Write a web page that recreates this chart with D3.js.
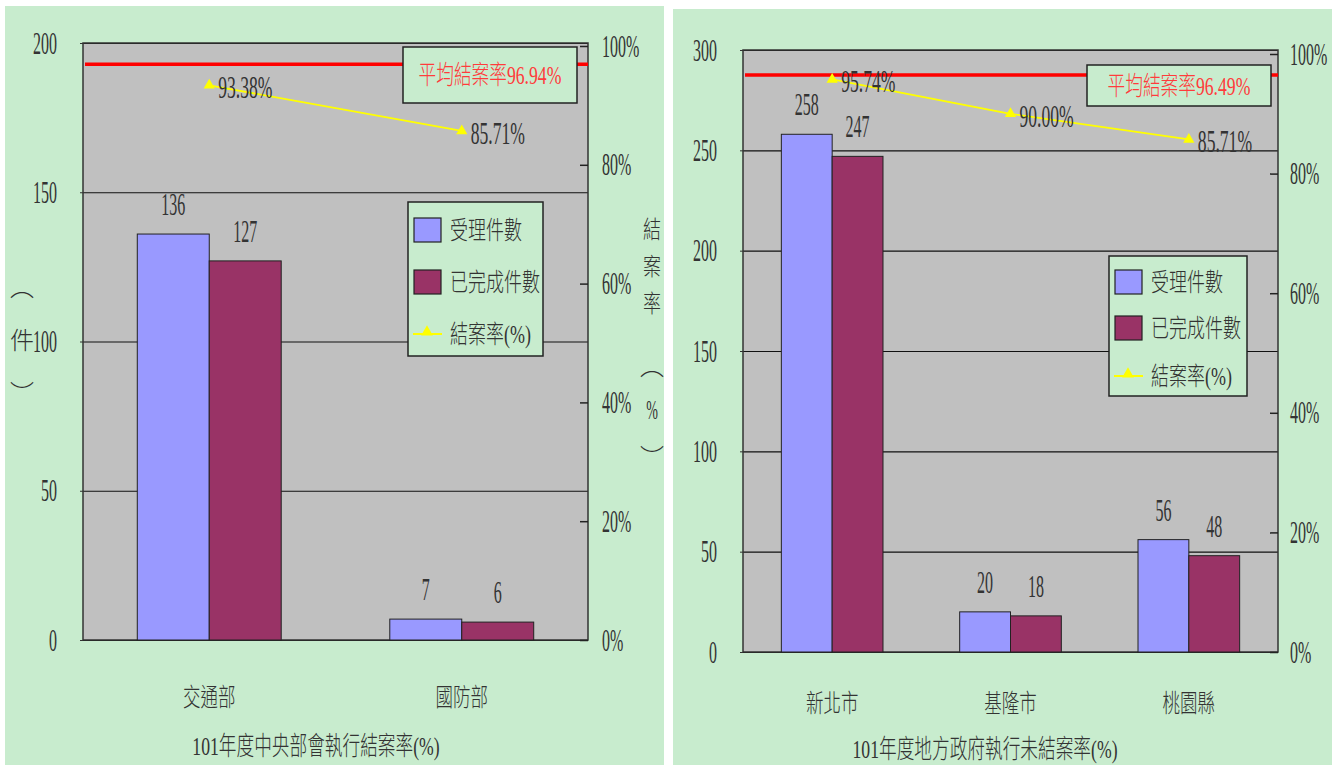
<!DOCTYPE html>
<html><head><meta charset="utf-8">
<script src="https://cdn.jsdelivr.net/npm/d3@7"></script>
<style>body{margin:0;background:#fff;}svg{display:block}</style>
</head><body>
<svg id="c" width="1338" height="765"></svg>
<script>
// ---------- data ----------
const centralCategories = ["交通部", "國防部"];
const centralReceived = [136, 7];
const centralCompleted = [127, 6];
const centralRate = [93.38, 85.71];
const centralAverage = 96.94;
const centralCountTicks = [0, 50, 100, 150, 200];
const centralTitle = "101年度中央部會執行結案率(%)";

const localCategories = ["新北市", "基隆市", "桃園縣"];
const localReceived = [258, 20, 56];
const localCompleted = [247, 18, 48];
const localRate = [95.74, 90.00, 85.71];
const localAverage = 96.49;
const localCountTicks = [0, 50, 100, 150, 200, 250, 300];
const localTitle = "101年度地方政府執行未結案率(%)";

const rateTicks = [0, 20, 40, 60, 80, 100];
const legendLabels = ["受理件數", "已完成件數", "結案率(%)"];
const averagePrefix = "平均結案率";
const leftAxisTitle = ["︵", "件", "︶"];
const rightAxisTitle = ["結", "案", "率", "︵", "%", "︶"];

// ---------- style ----------
const FONT = "'Liberation Serif','Noto Sans CJK TC',serif";
const GREEN = "#c8ecce", GRAY = "#c0c0c0", BLUE = "#9999ff", MAROON = "#993366";
const TXT = "#333333";
const NUM_SIZE = 32, NUM_SX = 0.5;
const svg = d3.select("#c");

function stext(g, x, y, str, o = {}) {
  const sx = o.sx ?? NUM_SX;
  return g.append("text")
    .attr("transform", `translate(${x},${y}) scale(${sx},1)`)
    .attr("text-anchor", o.anchor || "start")
    .attr("font-family", FONT)
    .attr("font-weight", o.weight || 300)
    .attr("font-size", o.size || NUM_SIZE)
    .attr("fill", o.fill || TXT)
    .text(str);
}

function drawPanel(cfg) {
  const L = cfg.layout;
  const g = svg.append("g");
  g.append("rect").attr("x", L.bg[0]).attr("y", L.bg[1]).attr("width", L.bg[2]).attr("height", L.bg[3]).attr("fill", GREEN);

  const x = d3.scaleBand().domain(cfg.categories).range([L.x0, L.x1]).padding(0);
  const y = d3.scaleLinear().domain([0, d3.max(cfg.countTicks)]).range([L.yb, L.yt]);
  const yr = d3.scaleLinear().domain([0, 100]).range([L.yb, L.ryt]);
  const barW = x.bandwidth() * 0.285;
  const sub = d3.scaleBand().domain(["r", "c"]).range([-barW, barW]);

  // plot area
  g.append("rect").attr("x", L.x0).attr("y", L.yt).attr("width", L.x1 - L.x0).attr("height", L.yb - L.yt).attr("fill", GRAY);

  // gridlines
  g.append("g").attr("transform", `translate(${L.x0},0)`)
    .call(d3.axisLeft(y).tickValues(cfg.countTicks).tickSize(-(L.x1 - L.x0)).tickFormat(""))
    .call(s => s.select(".domain").remove())
    .call(s => s.selectAll("line").attr("stroke", "#111").attr("stroke-width", 1.2));

  // frame
  g.append("rect").attr("x", L.x0).attr("y", L.yt).attr("width", L.x1 - L.x0).attr("height", L.yb - L.yt)
    .attr("fill", "none").attr("stroke", "#333").attr("stroke-width", 1.5);

  // left axis labels
  g.append("g").attr("transform", `translate(${L.x0},0)`)
    .call(d3.axisLeft(y).tickValues(cfg.countTicks).tickSize(3).tickPadding(26))
    .call(s => s.select(".domain").remove())
    .call(s => s.selectAll("line").attr("stroke", "#333"))
    .call(s => s.selectAll("text").attr("x", null).attr("dy", null)
      .attr("transform", `translate(-26,10) scale(${NUM_SX},1)`)
      .attr("font-family", FONT).attr("font-size", NUM_SIZE).attr("fill", TXT));

  // right axis
  g.append("g").attr("transform", `translate(${L.x1},0)`)
    .call(d3.axisRight(yr).tickValues(rateTicks).tickSize(-8).tickFormat(d => d + "%"))
    .call(s => s.select(".domain").remove())
    .call(s => s.selectAll("line").attr("stroke", "#222").attr("stroke-width", 1.5))
    .call(s => s.selectAll("text").attr("x", null).attr("dy", null)
      .attr("transform", `translate(${L.rlabelOff},10) scale(${NUM_SX},1)`)
      .attr("font-family", FONT).attr("font-size", NUM_SIZE).attr("fill", TXT));

  // bars
  const series = [["r", cfg.received, BLUE], ["c", cfg.completed, MAROON]];
  series.forEach(([k, vals, col]) => {
    g.append("g").selectAll("rect").data(vals).join("rect")
      .attr("x", (d, i) => x(cfg.categories[i]) + x.bandwidth() / 2 + sub(k))
      .attr("y", d => y(d))
      .attr("width", sub.bandwidth())
      .attr("height", d => L.yb - y(d))
      .attr("fill", col).attr("stroke", "#222").attr("stroke-width", 1);
    vals.forEach((d, i) => {
      stext(g, x(cfg.categories[i]) + x.bandwidth() / 2 + sub(k) + sub.bandwidth() / 2, y(d) - 19, d, { anchor: "middle" });
    });
  });

  // average line
  g.append("line").attr("x1", L.x0 + 2).attr("x2", L.x1).attr("y1", yr(cfg.average)).attr("y2", yr(cfg.average))
    .attr("stroke", "#ff0000").attr("stroke-width", 3.5);
  const ab = L.avgBox;
  g.append("rect").attr("x", ab[0]).attr("y", ab[1]).attr("width", ab[2]).attr("height", ab[3])
    .attr("fill", GREEN).attr("stroke", "#222").attr("stroke-width", 1.5);
  stext(g, ab[0] + ab[2] / 2, ab[1] + ab[3] / 2 + 9, averagePrefix + cfg.average.toFixed(2) + "%", { anchor: "middle", fill: "#ff3b3b", size: 26, sx: 0.68 });

  // rate line
  const cx = (d, i) => x(cfg.categories[i]) + x.bandwidth() / 2;
  g.append("path").datum(cfg.rate)
    .attr("d", d3.line().x(cx).y(d => yr(d)))
    .attr("fill", "none").attr("stroke", "#ffff00").attr("stroke-width", 1.8);
  g.append("g").selectAll("path").data(cfg.rate).join("path")
    .attr("transform", (d, i) => `translate(${cx(d, i)},${yr(d)})`)
    .attr("d", d3.symbol(d3.symbolTriangle, 55))
    .attr("fill", "#ffff00");
  cfg.rate.forEach((d, i) => {
    stext(g, cx(d, i) + 9, yr(d) + 13, d.toFixed(2) + "%", { sx: 0.55 });
  });

  // legend
  const lg = L.legend;
  g.append("rect").attr("x", lg.x).attr("y", lg.y).attr("width", lg.w).attr("height", lg.h)
    .attr("fill", GREEN).attr("stroke", "#222").attr("stroke-width", 1.5);
  [BLUE, MAROON].forEach((c, i) => {
    g.append("rect").attr("x", lg.x + 6).attr("y", lg.rows[i] - 12).attr("width", 27).attr("height", 24)
      .attr("fill", c).attr("stroke", "#222").attr("stroke-width", 1.2);
  });
  g.append("line").attr("x1", lg.x + 5).attr("x2", lg.x + 34).attr("y1", lg.rows[2]).attr("y2", lg.rows[2])
    .attr("stroke", "#ffff00").attr("stroke-width", 2);
  g.append("path").attr("transform", `translate(${lg.x + 19},${lg.rows[2] - 2})`)
    .attr("d", d3.symbol(d3.symbolTriangle, 60)).attr("fill", "#ffff00");
  legendLabels.forEach((t, i) => stext(g, lg.x + 42, lg.rows[i] + 9, t, { size: 25, sx: 0.72 }));

  // category labels
  cfg.categories.forEach(c => stext(g, x(c) + x.bandwidth() / 2, L.catY, c, { anchor: "middle", size: 25, sx: 0.7 }));
  stext(g, L.titleX, L.titleY, cfg.title, { anchor: "middle", size: 26, sx: 0.68 });

  if (L.leftTitle) {
    L.leftTitle.ys.forEach((yy, i) => stext(g, L.leftTitle.x, yy, leftAxisTitle[i], { anchor: "middle", size: 24, sx: 1 }));
  }
  if (L.rightTitle) {
    L.rightTitle.ys.forEach((yy, i) => {
      const isPct = rightAxisTitle[i] === "%";
      stext(g, L.rightTitle.x, yy, rightAxisTitle[i], { anchor: "middle", size: isPct ? 28 : 24, sx: isPct ? 0.5 : (i >= 3 ? 1 : 0.75) });
    });
  }
}

drawPanel({
  categories: centralCategories, received: centralReceived, completed: centralCompleted,
  rate: centralRate, average: centralAverage, countTicks: centralCountTicks, title: centralTitle,
  layout: {
    bg: [5, 6, 659, 759], x0: 83, x1: 588, yb: 640, yt: 43, ryt: 46, rlabelOff: 14,
    avgBox: [403, 47, 174, 56],
    legend: { x: 408, y: 202, w: 135, h: 154, rows: [230, 282, 334] },
    catY: 706, titleX: 316, titleY: 755,
    leftTitle: { x: 22, ys: [296, 349, 402] },
    rightTitle: { x: 652, ys: [238, 275, 312, 375, 419, 466] }
  }
});

drawPanel({
  categories: localCategories, received: localReceived, completed: localCompleted,
  rate: localRate, average: localAverage, countTicks: localCountTicks, title: localTitle,
  layout: {
    bg: [673, 9, 659, 756], x0: 743, x1: 1278, yb: 652, yt: 50, ryt: 54, rlabelOff: 12,
    avgBox: [1087, 65, 184, 41],
    legend: { x: 1109, y: 256, w: 138, h: 140, rows: [282, 328, 376] },
    catY: 712, titleX: 985, titleY: 758
  }
});
</script>
</body></html>
